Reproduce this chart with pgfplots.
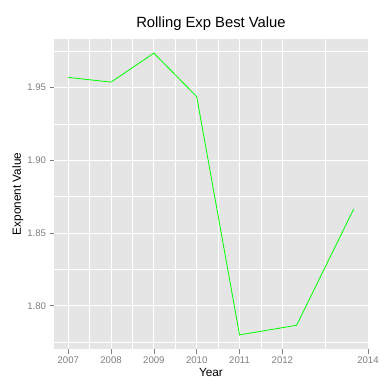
\documentclass[border=0pt]{standalone}
\usepackage{pgfplots}
\pgfplotsset{compat=1.18}
\usepackage{fontspec}
\setmainfont{Liberation Sans}
\definecolor{panel}{HTML}{E5E5E5}
\definecolor{ticktxt}{HTML}{7F7F7F}
\definecolor{linegreen}{HTML}{00FF00}
\begin{document}
\begin{tikzpicture}[x=1pt,y=1pt]
\path[use as bounding box, fill=white] (0,0) rectangle (388,392);
\begin{axis}[
  at={(54pt,43pt)}, anchor=south west, scale only axis,
  width=314pt, height=310pt,
  xmin=2006.667, xmax=2014, ymin=1.7703, ymax=1.9832,
  axis background/.style={fill=panel},
  axis line style={draw=none},
  xtick={2007,2008,2009,2010,2011,2012,2014},
  minor xtick={2007.5,2008.5,2009.5,2010.5,2011.5,2013},
  ytick={1.80,1.85,1.90,1.95},
  minor ytick={1.775,1.825,1.875,1.925,1.975},
  grid=both,
  major grid style={white, line width=0.9pt},
  minor grid style={white, line width=0.4pt},
  tick align=outside,
  major tick length=4.5pt, minor tick length=0pt,
  tick style={draw=ticktxt, line width=0.6pt},
  xtick pos=bottom, ytick pos=left,
  /pgf/number format/assume math mode=true,
  xticklabel style={font=\fontsize{9.6}{11}\selectfont, text=ticktxt, /pgf/number format/1000 sep={}},
  yticklabel style={font=\fontsize{9.6}{11}\selectfont, text=ticktxt, /pgf/number format/.cd, fixed, fixed zerofill, precision=2},
  xlabel={Year}, ylabel={Exponent Value},
  title={Rolling Exp Best Value},
  label style={font=\fontsize{11.8}{13}\selectfont},
  xlabel style={at={(axis description cs:0.5,-0.077)}, anchor=center},
  ylabel style={at={(axis description cs:-0.115,0.5)}, anchor=center, rotate=0},
  title style={font=\fontsize{14.8}{16}\selectfont, at={(axis description cs:0.5,1.029)}, anchor=center},
]
\addplot[color=linegreen, line width=0.8pt, mark=none] coordinates {
  (2007,1.9568) (2008,1.9536) (2009,1.9735) (2010,1.9436)
  (2011,1.7800) (2012.333,1.7866) (2013.667,1.8665)
};
\end{axis}
\end{tikzpicture}
\end{document}
